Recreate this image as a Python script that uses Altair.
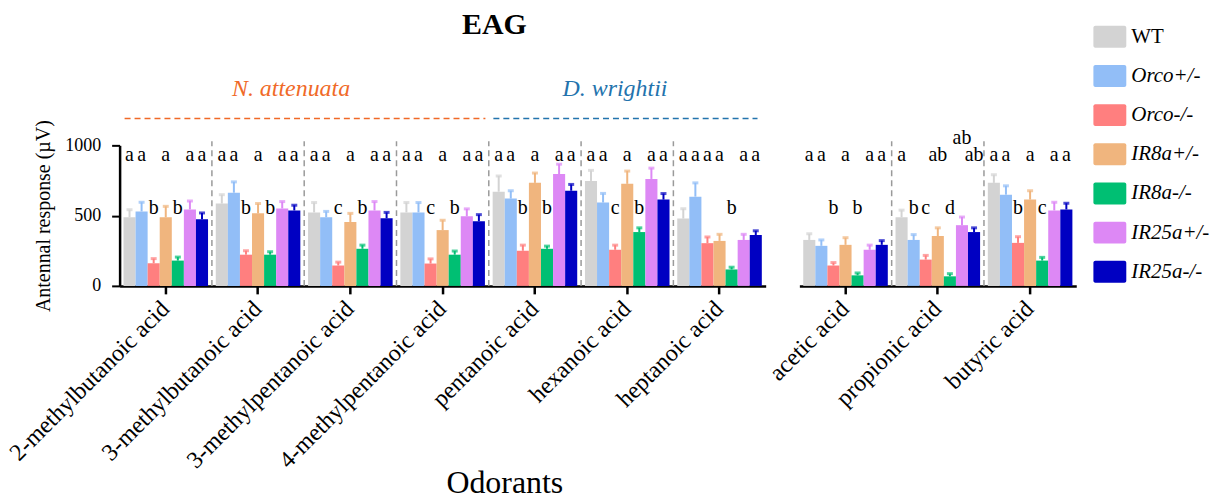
import altair as alt
import pandas as pd

# ---------------- data ----------------
odorants_left = ["2-methylbutanoic acid", "3-methylbutanoic acid", "3-methylpentanoic acid",
                 "4-methylpentanoic acid", "pentanoic acid", "hexanoic acid", "heptanoic acid"]
odorants_right = ["acetic acid", "propionic acid", "butyric acid"]
genotypes = ["WT", "Orco+/-", "Orco-/-", "IR8a+/-", "IR8a-/-", "IR25a+/-", "IR25a-/-"]
colors = ["#D3D3D3", "#92BEF7", "#FF7F7F", "#F0B57E", "#00BF73", "#DD88F5", "#0000C2"]

means = {
    "2-methylbutanoic acid": [488, 530, 161, 488, 180, 544, 474],
    "3-methylbutanoic acid": [586, 663, 222, 516, 222, 551, 537],
    "3-methylpentanoic acid": [523, 488, 145, 455, 264, 537, 481],
    "4-methylpentanoic acid": [523, 523, 159, 397, 222, 495, 460],
    "pentanoic acid": [670, 621, 250, 733, 264, 796, 677],
    "hexanoic acid": [747, 593, 257, 726, 383, 761, 614],
    "heptanoic acid": [479, 635, 304, 320, 117, 327, 362],
    "acetic acid": [327, 285, 145, 292, 75, 257, 292],
    "propionic acid": [488, 327, 187, 355, 68, 432, 383],
    "butyric acid": [733, 649, 306, 614, 180, 537, 544],
}
errors = {
    "2-methylbutanoic acid": [54, 65, 33, 78, 25, 60, 45],
    "3-methylbutanoic acid": [63, 77, 28, 70, 21, 49, 37],
    "3-methylpentanoic acid": [70, 42, 24, 61, 26, 63, 42],
    "4-methylpentanoic acid": [70, 70, 33, 70, 26, 53, 47],
    "pentanoic acid": [112, 56, 40, 70, 19, 70, 45],
    "hexanoic acid": [75, 65, 33, 91, 30, 77, 43],
    "heptanoic acid": [70, 98, 44, 47, 16, 40, 30],
    "acetic acid": [44, 42, 21, 51, 17, 33, 30],
    "propionic acid": [51, 38, 30, 58, 19, 58, 30],
    "butyric acid": [58, 63, 44, 63, 23, 58, 44],
}
letters = {
    "2-methylbutanoic acid": ["a", "a", "b", "a", "b", "a", "a"],
    "3-methylbutanoic acid": ["a", "a", "b", "a", "b", "a", "a"],
    "3-methylpentanoic acid": ["a", "a", "c", "a", "b", "a", "a"],
    "4-methylpentanoic acid": ["a", "a", "c", "a", "b", "a", "a"],
    "pentanoic acid": ["a", "a", "b", "a", "b", "a", "a"],
    "hexanoic acid": ["a", "a", "c", "a", "b", "a", "a"],
    "heptanoic acid": ["a", "a", "a", "a", "b", "a", "a"],
    "acetic acid": ["a", "a", "b", "a", "b", "a", "a"],
    "propionic acid": ["a", "b", "c", "ab", "d", "ab", "ab"],
    "butyric acid": ["a", "a", "b", "a", "c", "a", "a"],
}
raised_letters = [("propionic acid", "IR25a+/-")]

species = ["N. attenuata", "D. wrightii"]
species_colors = ["#F06A28", "#2373AD"]

# ---------------- table ----------------
rows = []
for od in odorants_left + odorants_right:
    for i, g in enumerate(genotypes):
        m = means[od][i]
        e = errors[od][i]
        lt = letters[od][i]
        if (od, g) in raised_letters:
            ly = 1012
        elif "a" in lt:
            ly = 890
        else:
            ly = 512
        rows.append(dict(odorant=od, genotype=g, mean=m, upper=m + e, letter=lt, letter_y=ly))
df = pd.DataFrame(rows)
leg_df = pd.DataFrame({"genotype": genotypes})

FONT = "Liberation Serif"
H = 141
STEP = 92.6
YSCALE = alt.Scale(domain=[0, 1000], nice=False, zero=True)
COLOR_SCALE = alt.Scale(domain=genotypes, range=colors)


def panel(odorants, show_y):
    width = STEP * len(odorants)
    src = df[df["odorant"].isin(odorants)]
    base = alt.Chart(src)
    xscale = alt.Scale(domain=odorants, paddingInner=0, paddingOuter=0)
    common = dict(labelAngle=-45, labelFont=FONT, labelFontSize=24, labelColor="black",
                  labelLimit=0, tickSize=8, tickWidth=2.5, tickColor="black", domainWidth=2.5,
                  domainColor="black", labelPadding=11)
    if show_y:
        xaxis = alt.Axis(title="Odorants", titleFont=FONT, titleFontSize=32,
                         titleFontWeight="normal", titleColor="black", titleX=386, titleY=207,
                         titleBaseline="alphabetic", titleAlign="center", **common)
        yaxis = alt.Axis(values=[0, 500, 1000], format="d", title="Antennal response (µV)",
                         labelFont=FONT, labelFontSize=18, labelColor="black", tickSize=8,
                         tickWidth=2, tickColor="black", domainWidth=2.5, domainColor="black",
                         labelPadding=11, titleFont=FONT, titleFontSize=20,
                         titleFontWeight="normal", titleColor="black", titlePadding=11, grid=False)
    else:
        xaxis = alt.Axis(title=None, **common)
        yaxis = None
    x = alt.X("odorant:N", scale=xscale, axis=xaxis)
    xo = alt.XOffset("genotype:N", sort=genotypes,
                     scale=alt.Scale(domain=genotypes, paddingInner=0, paddingOuter=0.32))
    col = alt.Color("genotype:N", scale=COLOR_SCALE, legend=None)

    bars = base.mark_bar().encode(x=x, xOffset=xo,
                                  y=alt.Y("mean:Q", scale=YSCALE, axis=yaxis), color=col)
    err = base.mark_rule(strokeWidth=2).encode(x=x, xOffset=xo, y="mean:Q", y2="upper:Q", color=col)
    caps = base.mark_tick(thickness=3, size=6).encode(x=x, xOffset=xo, y="upper:Q", color=col)
    txt = base.mark_text(font=FONT, fontSize=20, baseline="alphabetic", color="black").encode(
        x=x, xOffset=xo, y="letter_y:Q", text="letter:N")
    seps = alt.Chart(pd.DataFrame({"odorant": odorants[1:]})).mark_rule(
        color="#9a9a9a", strokeDash=[6, 4], strokeWidth=1.5).encode(
        x=alt.X("odorant:N", scale=xscale, bandPosition=0),
        y=alt.value(H), y2=alt.value(-4))
    return [seps, bars, err, caps, txt], width


# left panel with decorations
left_layers, left_w = panel(odorants_left, True)
sp_line_px = [(5, 367), (375, 640)]
sp_text_px = [172, 497]
for name, c, (x1, x2), tx in zip(species, species_colors, sp_line_px, sp_text_px):
    d = pd.DataFrame({"name": [name]})
    left_layers.append(alt.Chart(d).mark_rule(strokeDash=[6, 4], strokeWidth=1.5, color=c).encode(
        x=alt.value(x1), x2=alt.value(x2), y=alt.value(-27)))
    left_layers.append(alt.Chart(d).mark_text(font=FONT, fontSize=24, fontStyle="italic",
                                              baseline="alphabetic", color=c).encode(
        text="name:N", x=alt.value(tx), y=alt.value(-50)))
left_layers.append(alt.Chart(pd.DataFrame({"t": ["EAG"]})).mark_text(
    font=FONT, fontSize=30, fontWeight="bold", baseline="alphabetic", color="black").encode(
    text="t:N", x=alt.value(376), y=alt.value(-112)))
# invisible layout anchor (fixes the page offset of the plot area)
left_layers.append(alt.Chart(pd.DataFrame({"a": [0]})).mark_rule(strokeOpacity=0, strokeWidth=1).encode(
    x=alt.value(-114.5), y=alt.value(-139.5), y2=alt.value(0)))
left = alt.layer(*left_layers).properties(width=left_w, height=H)

# right panel with the legend
right_layers, right_w = panel(odorants_right, False)
leg_y = alt.Y("genotype:N", sort=genotypes, axis=None,
              scale=alt.Scale(domain=genotypes, range=[-128.6, 146.5],
                              paddingInner=0.44, paddingOuter=0.22))
leg_base = alt.Chart(leg_df)
leg_rect = leg_base.mark_rect(cornerRadius=2).encode(
    x=alt.value(295), x2=alt.value(328), y=leg_y,
    color=alt.Color("genotype:N", scale=COLOR_SCALE, legend=None))
leg_txt_n = leg_base.transform_filter(alt.datum.genotype == "WT").mark_text(
    font=FONT, fontSize=21, align="left", baseline="middle", color="black").encode(
    x=alt.value(333), y=leg_y, text="genotype:N")
leg_txt_i = leg_base.transform_filter(alt.datum.genotype != "WT").mark_text(
    font=FONT, fontSize=21, fontStyle="italic", align="left", baseline="middle",
    color="black").encode(x=alt.value(333), y=leg_y, text="genotype:N")
right = alt.layer(
    alt.layer(*right_layers),
    alt.layer(leg_rect, leg_txt_n, leg_txt_i),
).resolve_scale(y="independent").properties(width=right_w, height=H)

chart = (
    alt.hconcat(left, right, spacing=-2)
    .configure(font=FONT)
    .configure_view(stroke=None, strokeWidth=0)
)

chart.save("out.html", embed_options={"renderer": "svg", "actions": False})
